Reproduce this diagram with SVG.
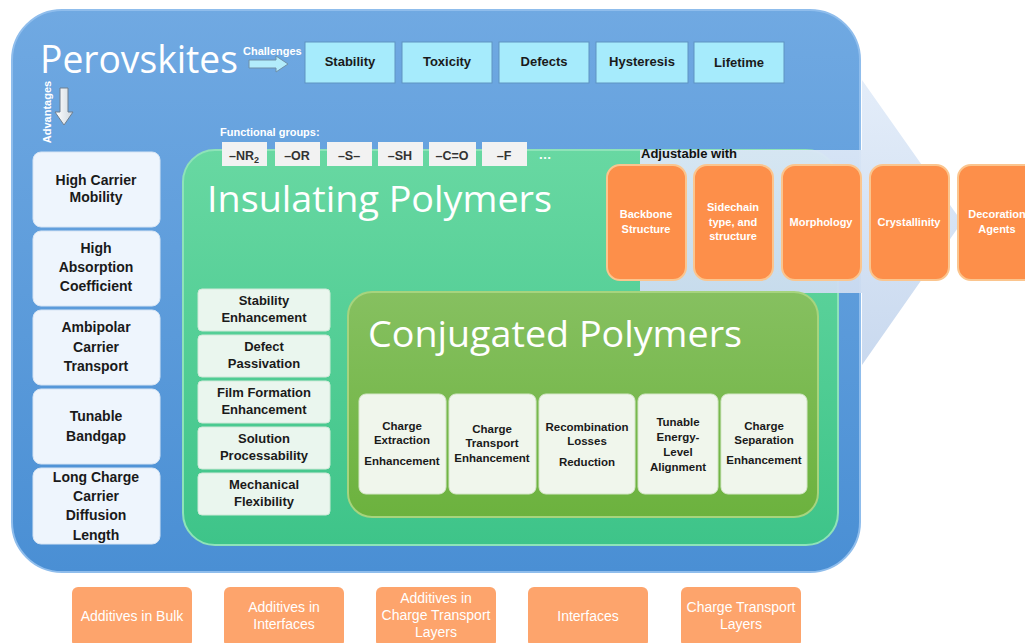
<svg xmlns="http://www.w3.org/2000/svg" width="1025" height="643" viewBox="0 0 1025 643">
<defs>
<linearGradient id="gBlue" x1="0" y1="0" x2="0" y2="1"><stop offset="0" stop-color="#70a9e2"/><stop offset="1" stop-color="#4a8fd4"/></linearGradient>
<linearGradient id="gGreen" x1="0" y1="0" x2="0" y2="1"><stop offset="0" stop-color="#68d8a2"/><stop offset="1" stop-color="#3ec489"/></linearGradient>
<linearGradient id="gConj" x1="0" y1="0" x2="0" y2="1"><stop offset="0" stop-color="#86c060"/><stop offset="1" stop-color="#6cb23e"/></linearGradient>
<linearGradient id="gArrow" x1="0" y1="0" x2="0" y2="1"><stop offset="0" stop-color="#e2ecf9"/><stop offset="1" stop-color="#c6d7ee"/></linearGradient>
<linearGradient id="gDown" x1="0" y1="0" x2="1" y2="0"><stop offset="0" stop-color="#ffffff"/><stop offset="1" stop-color="#cfd8e0"/></linearGradient>
<style>
.bold{font-family:"Liberation Sans",Arial,sans-serif;font-weight:bold;text-anchor:middle}
.title{font-family:"Open Sans","Noto Sans",sans-serif;fill:#ffffff}
.chal{fill:#a6ebfc;stroke:#5f93c2;stroke-width:1}
.chal-t{font-size:13px;fill:#1a1a1a}
.adv{fill:#eef5fd;stroke:#d6e4f4;stroke-width:1}
.adv-t{font-size:14px;fill:#1a1a1a}
.fg{fill:#f2f2f2}
.fg-t{font-size:12.5px;fill:#333333}
.ins{fill:#eaf6ee;stroke:#cfe9d8;stroke-width:1}
.ins-t{font-size:13px;fill:#1a1a1a}
.conj{fill:#f0f6ec;stroke:#d5e7c8;stroke-width:1}
.conj-t{font-size:11.5px;fill:#1a1a1a}
.org{fill:#fd8f4a;stroke:#fbc58e;stroke-width:2}
.org-t{font-size:11px;fill:#ffffff}
.bot{fill:#fda46c}
.bot-t{font-family:"Liberation Sans Narrow","Liberation Sans",sans-serif;font-size:14px;fill:#ffffff;text-anchor:middle}
</style>
</defs>

<g id="perovskites">
<rect x="12" y="10" width="848" height="562" rx="50" fill="url(#gBlue)" stroke="#8fbdec" stroke-width="2"/>
<text x="40" y="73" class="title" font-size="38" textLength="198" lengthAdjust="spacingAndGlyphs">Perovskites</text>
</g>

<g id="challenges-label">
<text x="243" y="55" font-family="Liberation Sans,Arial,sans-serif" font-weight="bold" font-size="11" fill="#ffffff">Challenges</text>
</g>
<g id="advantages-label">
<text x="0" y="0" transform="translate(51,112) rotate(-90)" class="bold" font-size="11" fill="#ffffff">Advantages</text>
</g>

<g id="challenge-boxes">
<g id="c-stability"><rect x="305" y="42" width="90" height="41" class="chal"/><text x="350" y="66" class="bold chal-t">Stability</text></g>
<g id="c-toxicity"><rect x="402" y="42" width="90" height="41" class="chal"/><text x="447" y="66" class="bold chal-t">Toxicity</text></g>
<g id="c-defects"><rect x="499" y="42" width="90" height="41" class="chal"/><text x="544" y="66" class="bold chal-t">Defects</text></g>
<g id="c-hysteresis"><rect x="596" y="42" width="92" height="41" class="chal"/><text x="642" y="66" class="bold chal-t">Hysteresis</text></g>
<g id="c-lifetime"><rect x="694" y="42" width="90" height="41" class="chal"/><text x="739" y="67" class="bold chal-t">Lifetime</text></g>
</g>

<g id="advantage-boxes">
<g id="a1"><rect x="33" y="152" width="127" height="75" rx="8" class="adv"/><text class="bold adv-t" x="96" y="185">High Carrier</text><text class="bold adv-t" x="96" y="202">Mobility</text></g>
<g id="a2"><rect x="33" y="231" width="127" height="75" rx="8" class="adv"/><text class="bold adv-t" x="96" y="253">High</text><text class="bold adv-t" x="96" y="272">Absorption</text><text class="bold adv-t" x="96" y="291">Coefficient</text></g>
<g id="a3"><rect x="33" y="310" width="127" height="75" rx="8" class="adv"/><text class="bold adv-t" x="96" y="332">Ambipolar</text><text class="bold adv-t" x="96" y="352">Carrier</text><text class="bold adv-t" x="96" y="371">Transport</text></g>
<g id="a4"><rect x="33" y="389" width="127" height="75" rx="8" class="adv"/><text class="bold adv-t" x="96" y="421">Tunable</text><text class="bold adv-t" x="96" y="441">Bandgap</text></g>
<g id="a5"><rect x="33" y="468" width="127" height="76" rx="8" class="adv"/><text class="bold adv-t" x="96" y="482">Long Charge</text><text class="bold adv-t" x="96" y="501">Carrier</text><text class="bold adv-t" x="96" y="520">Diffusion</text><text class="bold adv-t" x="96" y="540">Length</text></g>
</g>

<g id="insulating-polymers">
<rect x="183" y="150" width="655" height="395" rx="32" fill="url(#gGreen)" stroke="#8ee3b8" stroke-width="2"/>
<text x="207" y="212" class="title" font-size="37" textLength="345" lengthAdjust="spacingAndGlyphs">Insulating Polymers</text>
</g>

<g id="functional-groups">
<text x="220" y="136" font-family="Liberation Sans,Arial,sans-serif" font-weight="bold" font-size="11" fill="#ffffff">Functional groups:</text>
<g id="fg-nr2"><rect x="222" y="142" width="45" height="24" class="fg"/><text x="244" y="160" class="bold fg-t">–NR<tspan font-size="9" dy="3">2</tspan></text></g>
<g id="fg-or"><rect x="275" y="142" width="45" height="24" class="fg"/><text x="297" y="160" class="bold fg-t">–OR</text></g>
<g id="fg-s"><rect x="327" y="142" width="45" height="24" class="fg"/><text x="349" y="160" class="bold fg-t">–S–</text></g>
<g id="fg-sh"><rect x="378" y="142" width="45" height="24" class="fg"/><text x="400" y="160" class="bold fg-t">–SH</text></g>
<g id="fg-co"><rect x="429" y="142" width="47" height="24" class="fg"/><text x="452" y="160" class="bold fg-t">–C=O</text></g>
<g id="fg-f"><rect x="482" y="142" width="45" height="24" class="fg"/><text x="504" y="160" class="bold fg-t">–F</text></g>
<text x="545" y="159" class="bold" font-size="13" fill="#ffffff">…</text>
</g>

<g id="insulating-boxes">
<g id="i1"><rect x="198" y="289" width="132" height="42" rx="4" class="ins"/><text class="bold ins-t" x="264" y="305">Stability</text><text class="bold ins-t" x="264" y="322">Enhancement</text></g>
<g id="i2"><rect x="198" y="335" width="132" height="42" rx="4" class="ins"/><text class="bold ins-t" x="264" y="351">Defect</text><text class="bold ins-t" x="264" y="368">Passivation</text></g>
<g id="i3"><rect x="198" y="381" width="132" height="42" rx="4" class="ins"/><text class="bold ins-t" x="264" y="397">Film Formation</text><text class="bold ins-t" x="264" y="414">Enhancement</text></g>
<g id="i4"><rect x="198" y="427" width="132" height="42" rx="4" class="ins"/><text class="bold ins-t" x="264" y="443">Solution</text><text class="bold ins-t" x="264" y="460">Processability</text></g>
<g id="i5"><rect x="198" y="473" width="132" height="42" rx="4" class="ins"/><text class="bold ins-t" x="264" y="489">Mechanical</text><text class="bold ins-t" x="264" y="506">Flexibility</text></g>
</g>

<g id="adjustable-arrow">
<polygon points="640,150 862,150 862,80 962,222 862,365 862,293 640,293" fill="url(#gArrow)" opacity="0.95"/>
<text x="641" y="158" font-family="Liberation Sans,Arial,sans-serif" font-weight="bold" font-size="13" fill="#111111">Adjustable with</text>
</g>

<g id="conjugated-polymers">
<rect x="348" y="292" width="470" height="225" rx="24" fill="url(#gConj)" stroke="#a6d47e" stroke-width="2"/>
<text x="368" y="347" class="title" font-size="36" textLength="374" lengthAdjust="spacingAndGlyphs">Conjugated Polymers</text>
</g>

<g id="conjugated-boxes">
<g id="cp1"><rect x="359" y="394" width="87" height="100" rx="7" class="conj"/><text class="bold conj-t" x="402" y="430">Charge</text><text class="bold conj-t" x="402" y="444">Extraction</text><text class="bold conj-t" x="402" y="465">Enhancement</text></g>
<g id="cp2"><rect x="449" y="394" width="87" height="100" rx="7" class="conj"/><text class="bold conj-t" x="492" y="433">Charge</text><text class="bold conj-t" x="492" y="447">Transport</text><text class="bold conj-t" x="492" y="462">Enhancement</text></g>
<g id="cp3"><rect x="539" y="394" width="96" height="100" rx="7" class="conj"/><text class="bold conj-t" x="587" y="431">Recombination</text><text class="bold conj-t" x="587" y="445">Losses</text><text class="bold conj-t" x="587" y="466">Reduction</text></g>
<g id="cp4"><rect x="638" y="394" width="80" height="100" rx="7" class="conj"/><text class="bold conj-t" x="678" y="426">Tunable</text><text class="bold conj-t" x="678" y="441">Energy-</text><text class="bold conj-t" x="678" y="456">Level</text><text class="bold conj-t" x="678" y="471">Alignment</text></g>
<g id="cp5"><rect x="721" y="394" width="86" height="100" rx="7" class="conj"/><text class="bold conj-t" x="764" y="430">Charge</text><text class="bold conj-t" x="764" y="444">Separation</text><text class="bold conj-t" x="764" y="464">Enhancement</text></g>
</g>

<g id="adjustable-boxes">
<g id="o1"><rect x="607" y="165" width="79" height="115" rx="13" class="org"/><text class="bold org-t" x="646" y="218">Backbone</text><text class="bold org-t" x="646" y="233">Structure</text></g>
<g id="o2"><rect x="694" y="165" width="79" height="115" rx="13" class="org"/><text class="bold org-t" x="733" y="211">Sidechain</text><text class="bold org-t" x="733" y="226">type, and</text><text class="bold org-t" x="733" y="240">structure</text></g>
<g id="o3"><rect x="782" y="165" width="79" height="115" rx="13" class="org"/><text class="bold org-t" x="821" y="226">Morphology</text></g>
<g id="o4"><rect x="870" y="165" width="79" height="115" rx="13" class="org"/><text class="bold org-t" x="909" y="226">Crystallinity</text></g>
<g id="o5"><rect x="958" y="165" width="82" height="115" rx="13" class="org"/><text class="bold org-t" x="997" y="218">Decoration</text><text class="bold org-t" x="997" y="233">Agents</text></g>
</g>

<g id="connectors">
<polygon points="249,60 276,60 276,56 288,64 276,72 276,68 249,68" fill="#b3ecfb" stroke="#6f8fa8" stroke-width="1"/>
<polygon points="60,88 68,88 68,112 73,112 64,125 55,112 60,112" fill="url(#gDown)" stroke="#6f7f8f" stroke-width="1"/>
</g>

<g id="bottom-boxes">
<g id="b1"><rect x="72" y="587" width="120" height="60" rx="6" class="bot"/><text class="bot-t" x="132" y="621">Additives in Bulk</text></g>
<g id="b2"><rect x="224" y="587" width="120" height="60" rx="6" class="bot"/><text class="bot-t" x="284" y="612">Additives in</text><text class="bot-t" x="284" y="629">Interfaces</text></g>
<g id="b3"><rect x="376" y="587" width="120" height="60" rx="6" class="bot"/><text class="bot-t" x="436" y="603">Additives in</text><text class="bot-t" x="436" y="620">Charge Transport</text><text class="bot-t" x="436" y="637">Layers</text></g>
<g id="b4"><rect x="528" y="587" width="120" height="60" rx="6" class="bot"/><text class="bot-t" x="588" y="621">Interfaces</text></g>
<g id="b5"><rect x="681" y="587" width="120" height="60" rx="6" class="bot"/><text class="bot-t" x="741" y="612">Charge Transport</text><text class="bot-t" x="741" y="629">Layers</text></g>
</g>
</svg>
